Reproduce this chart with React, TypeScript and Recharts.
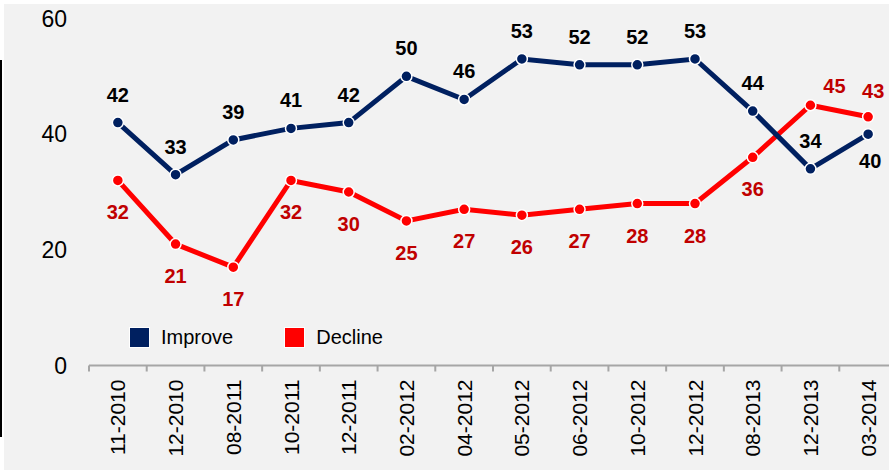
import { CartesianGrid, LabelList, Legend, Line, LineChart, XAxis, YAxis } from 'recharts';

const periods = [
  '11-2010', '12-2010', '08-2011', '10-2011', '12-2011', '02-2012', '04-2012',
  '05-2012', '06-2012', '10-2012', '12-2012', '08-2013', '12-2013', '03-2014',
];
const improve = [42, 33, 39, 41, 42, 50, 46, 53, 52, 52, 53, 44, 34, 40];
const decline = [32, 21, 17, 32, 30, 25, 27, 26, 27, 28, 28, 36, 45, 43];
const yTicks = [0, 20, 40, 60];

const NAVY = '#002060';
const RED = '#ff0000';
const DARK_RED = '#c00000';
const FONT = '"Liberation Sans", Arial, sans-serif';

const CHART_W = 900;
const CHART_H = 474;
const Y_AXIS_W = 89;
const RIGHT = 3;
const BAND = (CHART_W - Y_AXIS_W - RIGHT) / periods.length;

const data = periods.map((p, i) => ({ period: p, improve: improve[i], decline: decline[i] }));

// label placement tweaks where the two lines cross at the end
const improveOffsets: Record<number, [number, number]> = { 13: [2, 27] };
const declineOffsets: Record<number, [number, number]> = { 12: [24, -19], 13: [5, -26] };

function makeLabel(color: string, base: [number, number], tweaks: Record<number, [number, number]>) {
  return (props: any) => {
    const { x, y, value, index } = props;
    const [dx, dy] = tweaks[index] ?? base;
    return (
      <text
        x={x + dx}
        y={y + dy}
        textAnchor="middle"
        dominantBaseline="central"
        fill={color}
        fontFamily={FONT}
        fontWeight="bold"
        fontSize={20}
      >
        {value}
      </text>
    );
  };
}

function PeriodTick(props: any) {
  const { x, y, payload } = props;
  const edge = x - BAND / 2;
  return (
    <g>
      <line x1={edge} y1={y} x2={edge} y2={y + 6} stroke="#a6a6a6" strokeWidth={2} />
      <text
        x={x}
        y={y + 14}
        transform={`rotate(-90 ${x} ${y + 14})`}
        textAnchor="end"
        dominantBaseline="central"
        fill="#000"
        fontFamily={FONT}
        fontSize={21}
      >
        {payload.value}
      </text>
    </g>
  );
}

function LegendContent({ payload }: any) {
  const items = [...(payload ?? [])].reverse();
  return (
    <div style={{ display: 'flex', alignItems: 'center', fontFamily: FONT, fontSize: 20, color: '#000' }}>
      {items.map((it: any, i: number) => (
        <div key={it.value} style={{ display: 'flex', alignItems: 'center', marginRight: i === 0 ? 51 : 0 }}>
          <span
            style={{
              display: 'inline-block',
              width: 19,
              height: 19,
              background: it.color,
              border: '1px solid #fff',
              marginRight: 11,
            }}
          />
          <span>{it.value}</span>
        </div>
      ))}
    </div>
  );
}

export default function App() {
  return (
    <div style={{ position: 'absolute', left: 0, top: 0, width: 889, height: 474, background: '#fff', overflow: 'hidden' }}>
      <div style={{ position: 'absolute', left: 4, top: 4, width: 885, height: 466, background: '#f2f2f2' }} />
      <div style={{ position: 'absolute', left: 0, top: 60, width: 2, height: 377, background: '#000' }} />
      <div style={{ position: 'absolute', left: 0, top: 0 }}>
        <LineChart
          width={CHART_W}
          height={CHART_H}
          data={data}
          margin={{ top: 18.5, right: RIGHT, left: 0, bottom: 0 }}
        >
          <CartesianGrid horizontal={false} vertical={false} />
          <XAxis
            dataKey="period"
            height={108.5}
            interval={0}
            padding={{ left: BAND / 2, right: BAND / 2 }}
            tickSize={0}
            tickMargin={0}
            tickLine={false}
            axisLine={{ stroke: '#a6a6a6', strokeWidth: 2 }}
            tick={<PeriodTick />}
          />
          <YAxis
            width={Y_AXIS_W}
            domain={[0, 60]}
            ticks={yTicks}
            axisLine={false}
            tickLine={false}
            tickSize={0}
            tickMargin={22}
            tick={{ fontSize: 23, fill: '#000', fontFamily: FONT }}
          />
          <Legend
            verticalAlign="middle"
            layout="horizontal"
            align="center"
            wrapperStyle={{ top: 326, left: 129, width: 'auto' }}
            content={<LegendContent />}
          />
          <Line
            dataKey="decline"
            name="Decline"
            stroke={RED}
            strokeWidth={5}
            dot={{ r: 5.5, fill: RED, stroke: '#fff', strokeWidth: 1.5 }}
            activeDot={false}
            isAnimationActive={false}
          >
            <LabelList dataKey="decline" content={makeLabel(DARK_RED, [0, 32], declineOffsets)} />
          </Line>
          <Line
            dataKey="improve"
            name="Improve"
            stroke={NAVY}
            strokeWidth={5}
            dot={{ r: 5.5, fill: NAVY, stroke: '#fff', strokeWidth: 1.5 }}
            activeDot={false}
            isAnimationActive={false}
          >
            <LabelList dataKey="improve" content={makeLabel('#000', [0, -28], improveOffsets)} />
          </Line>
        </LineChart>
      </div>
    </div>
  );
}
